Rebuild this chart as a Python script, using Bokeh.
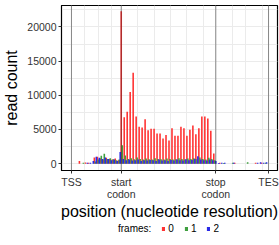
from bokeh.plotting import figure
from bokeh.models import Range1d, FixedTicker, Span, Legend, LegendItem, ColumnDataSource
from bokeh.layouts import column
from bokeh.embed import file_html
from bokeh.resources import INLINE

# codon index of the first codon listed (nucleotide position = 3*codon + frame, start codon = 0)
first_codon = -17

# read counts per codon, for nucleotides in frame 0 / 1 / 2
frame0 = [0, 0, 0, 380, 0, 180, 150, 0, 900, 1000, 800, 650, 850, 700, 600, 750, 500,
          22300, 6800, 7600, 10500, 13300, 6900, 5400, 5300, 6500, 4900, 5100, 5100, 4400, 4400, 3700, 4200,
          3400, 5200, 4100, 4100, 5400, 5200, 4100, 4950, 5600, 4300, 5200, 6900, 6900, 6600, 4800, 1500,
          0, 150, 0, 0, 0, 0, 150, 0, 0, 0, 0, 0, 0, 120, 0, 150, 0, 0]
frame1 = [0, 0, 0, 0, 150, 0, 0, 0, 300, 600, 1150, 1450, 700, 800, 650, 500, 600,
          2700, 1200, 700, 800, 650, 900, 700, 600, 750, 650, 600, 800, 700, 650, 600, 750,
          700, 600, 650, 800, 700, 600, 750, 700, 800, 650, 900, 700, 600, 850, 700, 500,
          0, 0, 100, 0, 0, 120, 0, 0, 0, 0, 200, 0, 0, 0, 0, 0, 150, 0]
frame2 = [0, 0, 0, 0, 0, 120, 150, 380, 1000, 850, 700, 900, 700, 500, 600, 400, 1700,
          700, 500, 600, 450, 500, 600, 400, 500, 450, 550, 500, 400, 600, 450, 500, 400,
          550, 450, 600, 500, 450, 650, 500, 550, 700, 1100, 600, 500, 450, 600, 500, 400,
          100, 120, 150, 0, 0, 150, 0, 0, 0, 0, 0, 0, 0, 150, 200, 150, 200, 0]

frame_names = ["0", "1", "2"]
frame_colors = ["#ff3333", "#3f9f3f", "#2a2ae6"]

landmark_pos = [-50, 0, 95, 148]
landmark_labels = ["TSS", "start\ncodon", "stop\ncodon", "TES"]
y_ticks = [0, 5000, 10000, 15000, 20000]
grid_y = [0, 2500, 5000, 7500, 10000, 12500, 15000, 17500, 20000, 22500]
grid_x = [-50, -36.7, -23.3, -10, 0, 16.7, 33.3, 49.3, 66, 82.7, 95, 111.7, 125, 141.7, 148]

FONT = "Liberation Sans"

p = figure(width=279, height=222, output_backend="svg", toolbar_location=None,
           x_range=Range1d(-60, 157), y_range=Range1d(-1000, 23143),
           min_border_left=60, min_border_right=2, min_border_top=5, min_border_bottom=48)

p.background_fill_color = "white"
p.border_fill_color = "white"
p.outline_line_color = "black"
p.outline_line_width = 1.2

renderers = []
for f, (vals, col) in enumerate(zip([frame0, frame1, frame2], frame_colors)):
    xs = [3 * (first_codon + i) + f for i in range(len(vals))]
    src = ColumnDataSource(dict(x=xs, top=vals))
    r = p.vbar(x="x", top="top", bottom=0, width=1.6, source=src,
               fill_color=col, line_color=None)
    renderers.append(r)

for xp in landmark_pos:
    p.add_layout(Span(location=xp, dimension="height", line_color="#222222",
                      line_dash="1 1", line_width=1))

# grids
p.xgrid.ticker = FixedTicker(ticks=grid_x)
p.ygrid.ticker = FixedTicker(ticks=grid_y)
p.xgrid.grid_line_color = "#ebebeb"
p.ygrid.grid_line_color = "#ebebeb"
p.xgrid.grid_line_width = 1
p.ygrid.grid_line_width = 1

# axes
p.xaxis.ticker = FixedTicker(ticks=landmark_pos)
p.xaxis.major_label_overrides = dict(zip(landmark_pos, landmark_labels))
p.yaxis.ticker = FixedTicker(ticks=y_ticks)
for ax in (p.xaxis, p.yaxis):
    ax.minor_tick_line_color = None
    ax.major_tick_out = 3
    ax.major_tick_in = 0
    ax.major_tick_line_color = "#333333"
    ax.axis_line_color = "black"
    ax.major_label_text_font = FONT
    ax.major_label_text_font_size = "10.5px"
    ax.major_label_text_color = "#333333"
    ax.major_label_text_line_height = 1.0
    ax.axis_label_text_font = FONT
    ax.axis_label_text_font_size = "16px"
    ax.axis_label_text_font_style = "normal"
    ax.axis_label_text_color = "black"

p.xaxis.axis_label = "position (nucleotide resolution)"
p.xaxis.major_label_standoff = 2
p.xaxis.axis_label_standoff = 0
p.yaxis.axis_label = "read count"
p.yaxis.major_label_standoff = 2
p.yaxis.axis_label_standoff = 4

# legend strip below the plot (no axes; renderers have zero-height bars, used only as legend swatches)
pl = figure(width=279, height=23, output_backend="svg", toolbar_location=None,
            x_axis_location=None, y_axis_location=None,
            x_range=Range1d(0, 279), y_range=Range1d(0, 23),
            min_border_left=0, min_border_right=0, min_border_top=0, min_border_bottom=0)
pl.grid.visible = False
pl.outline_line_color = None
pl.background_fill_color = "white"
pl.border_fill_color = "white"

swatch = ColumnDataSource(dict(x=[0], top=[0]))
dummy = pl.vbar(x="x", top="top", bottom=0, width=1, source=swatch,
                fill_alpha=0, line_alpha=0)
leg_r = [pl.vbar(x="x", top="top", bottom=0, width=1, source=swatch,
                 fill_color=c, line_color=None) for c in frame_colors]

# the column aligns this strip's frame with the main plot's frame (60 px in)
legend = Legend(items=[LegendItem(label="frames:", renderers=[dummy])] +
                [LegendItem(label=n, renderers=[r]) for n, r in zip(frame_names, leg_r)],
                orientation="horizontal", location=(50, 11),
                glyph_width=4, glyph_height=5, label_standoff=3, spacing=10,
                label_width=1,
                padding=0, margin=0, border_line_alpha=0, background_fill_alpha=0,
                label_text_font=FONT, label_text_font_size="10px", label_height=10,
                label_text_color="black")
pl.add_layout(legend)

layout = column(p, pl, spacing=0)
open("out.html", "w").write(file_html(layout, INLINE))
